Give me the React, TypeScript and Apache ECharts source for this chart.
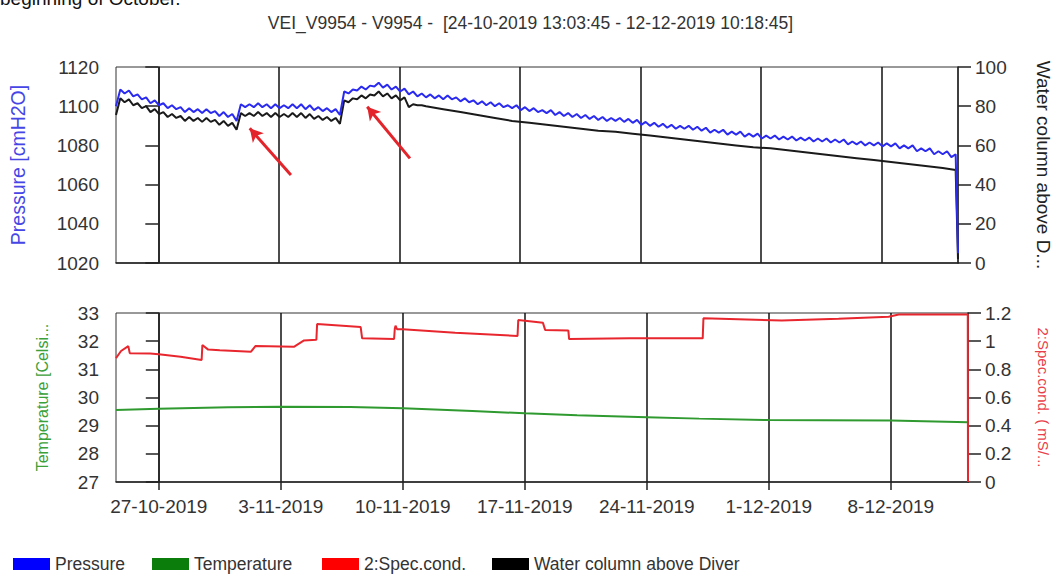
import React, { useEffect, useRef } from "react";
import * as echarts from "echarts";

// ---------- data ----------
const START = "2019-10-24T13:03:45";
const END = "2019-12-12T10:18:45";
const ORIGIN = "2019-10-27T00:00:00";

const X_TICKS = ["2019-10-27", "2019-11-03", "2019-11-10", "2019-11-17", "2019-11-24", "2019-12-01", "2019-12-08"];

// Pressure [cmH2O], one value every 6 hours from START (peak / trough of the semidiurnal wave)
const PRESSURE_STEP_HOURS = 6;
const pressure6h = [
  1100, 1108.5, 1106.5, 1108,   // 24-10
  1105, 1106, 1103.5, 1104.5,   // 25-10
  1101.5, 1103, 1100.5, 1101.5, // 26-10
  1099, 1100.5, 1098.5, 1099.5, // 27-10
  1097, 1099, 1097, 1098.5,     // 28-10
  1096.5, 1098.5, 1096.5, 1097.5, // 29-10
  1095, 1097, 1094.5, 1096,     // 30-10
  1092.5, 1101, 1099.5, 1101,   // 31-10
  1099.5, 1101.5, 1099.5, 1101, // 1-11
  1099, 1101, 1099, 1100.5,     // 2-11
  1099, 1101, 1099, 1101,       // 3-11
  1098.5, 1100.5, 1098, 1099.5, // 4-11
  1097.5, 1099, 1097, 1098.5,   // 5-11
  1095.5, 1107.5, 1106.5, 1108.5, // 6-11
  1108, 1110, 1108.5, 1110.5,   // 7-11
  1110, 1112, 1109.5, 1111,     // 8-11
  1108.5, 1110, 1107.5, 1109,   // 9-11
  1106, 1107.5, 1105, 1106.5,   // 10-11
  1104.5, 1106, 1104, 1105.5,   // 11-11
  1103.5, 1105.5, 1103.5, 1104.5, // 12-11
  1102.5, 1104, 1102, 1103,     // 13-11
  1101, 1102.5, 1100.5, 1102,   // 14-11
  1100, 1101.5, 1099.5, 1100.5, // 15-11
  1099, 1100.5, 1098, 1099.5,   // 16-11
  1097.5, 1099, 1097, 1098,     // 17-11
  1096.5, 1098, 1095.5, 1097,   // 18-11
  1095, 1096.5, 1094.5, 1096,   // 19-11
  1094, 1095.5, 1093.5, 1095,   // 20-11
  1093, 1094.5, 1092.5, 1094,   // 21-11
  1092.5, 1094, 1092, 1093.5,   // 22-11
  1091.5, 1093, 1090.5, 1092,   // 23-11
  1090, 1091.5, 1089.5, 1091,   // 24-11
  1089, 1090.5, 1088.5, 1090,   // 25-11
  1088.5, 1090, 1088, 1089.5,   // 26-11
  1087.5, 1089, 1086.5, 1088,   // 27-11
  1086.5, 1088, 1085.5, 1087,   // 28-11
  1085.5, 1087, 1084.5, 1086,   // 29-11
  1084.5, 1086, 1083.5, 1085,   // 30-11
  1083.5, 1085, 1083, 1084.5,   // 1-12
  1083, 1084.5, 1082.5, 1084,   // 2-12
  1082.5, 1084, 1082, 1083.5,   // 3-12
  1082, 1083.5, 1081.5, 1083,   // 4-12
  1081.5, 1083, 1080.5, 1082,   // 5-12
  1080.5, 1082, 1080, 1081.5,   // 6-12
  1080, 1081.5, 1079.5, 1081,   // 7-12
  1079.5, 1081, 1078.5, 1080,   // 8-12
  1078.5, 1080, 1077, 1078.5,   // 9-12
  1077, 1078.5, 1075.5, 1077,   // 10-12
  1075.5, 1077, 1074, 1075.5,   // 11-12
];
const pressureLast = 1025; // at END (diver taken out)

// Water column above Diver [cm]: 6-hourly until 11-11, then daily
const water6h = [
  75.5, 84, 82, 83.5,
  80.5, 81.5, 79, 80,
  77, 78.5, 76, 77,
  74.5, 76, 74, 75,
  72.5, 74.5, 72.5, 74,
  72, 74, 72, 73,
  70.5, 72.5, 70, 71.5,
  68, 76.5, 75, 76.5,
  75, 77, 75, 76.5,
  74.5, 76.5, 74.5, 76,
  74.5, 76.5, 74.5, 76.5,
  74, 76, 73.5, 75,
  73, 74.5, 72.5, 74,
  71, 83, 82, 84,
  83.5, 85.5, 84, 86,
  85.5, 87.5, 85, 86.5,
  84, 85.5, 83, 84.5,
  79.5, 81, 80.5, 80.5,
];
const waterDaily = [
  80, 78.5, 77, 75.5, 74, 72.5, 71.5, 70.5, 69.5, 68.5, 67.5, 67, 66, 65, 64, 63,
  62, 61, 60, 59, 58.5, 57.5, 56.5, 55.5, 54.5, 53.5, 52.5, 51.5, 50.5, 49.5, 48.5,
];
const waterTailTimes = ["2019-12-12T07:03:45", END];
const waterTailValues = [47.5, 2];

// Temperature [Celsius]
const tempTimes = [
  START, "2019-10-27T00:00", "2019-10-31T00:00", "2019-11-03T00:00", "2019-11-07T00:00",
  "2019-11-10T00:00", "2019-11-14T00:00", "2019-11-17T00:00", "2019-11-20T00:00",
  "2019-11-24T00:00", "2019-11-27T00:00", "2019-12-01T00:00", "2019-12-04T00:00",
  "2019-12-08T00:00", END,
];
const tempValues = [29.56, 29.6, 29.65, 29.67, 29.66, 29.62, 29.52, 29.44, 29.37, 29.3, 29.25, 29.2, 29.19, 29.18, 29.12];

// 2:Spec.cond. [mS/cm]
const condTimes = [
  START, "2019-10-24T20:00", "2019-10-25T06:00", "2019-10-25T08:00", "2019-10-26T12:00",
  "2019-10-27T00:00", "2019-10-28T06:00", "2019-10-29T11:00", "2019-10-29T12:00",
  "2019-10-29T20:00", "2019-10-30T12:00", "2019-11-01T07:00", "2019-11-01T13:00",
  "2019-11-03T18:00", "2019-11-04T08:00", "2019-11-05T01:00", "2019-11-05T02:00",
  "2019-11-07T14:00", "2019-11-07T16:00", "2019-11-09T12:00", "2019-11-09T13:00",
  "2019-11-09T14:00", "2019-11-09T16:00", "2019-11-10T00:00", "2019-11-13T00:00",
  "2019-11-16T14:00", "2019-11-16T15:00", "2019-11-18T01:00", "2019-11-18T04:00",
  "2019-11-19T12:00", "2019-11-19T13:00", "2019-11-23T00:00", "2019-11-27T05:00",
  "2019-11-27T06:00", "2019-12-01T18:00", "2019-12-05T00:00", "2019-12-07T21:00",
  "2019-12-08T11:00", "2019-12-12T10:00", END,
];
const condValues = [
  0.88, 0.93, 0.965, 0.915, 0.912,
  0.907, 0.89, 0.866, 0.973,
  0.94, 0.935, 0.925, 0.965,
  0.96, 1.005, 1.01, 1.122,
  1.1, 1.02, 1.015, 1.09,
  1.11, 1.085, 1.085, 1.06,
  1.037, 1.15, 1.13, 1.08,
  1.075, 1.015, 1.02, 1.02,
  1.163, 1.146, 1.16, 1.174,
  1.19, 1.19, 0,
];

// annotation arrows: [tail time, tail pressure, head time, head pressure]
const arrowTails = ["2019-11-03T16:48", "2019-11-10T14:38"];
const arrowTailValues = [1064.9, 1073.4];
const arrowHeads = ["2019-11-01T07:26", "2019-11-08T03:07"];
const arrowHeadValues = [1088.7, 1099.7];

const TITLE = "VEI_V9954 - V9954 -  [24-10-2019 13:03:45 - 12-12-2019 10:18:45]";
const CUT_TEXT = "beginning of October.";

// ---------- helpers ----------
const DAY_MS = 86400000;
const ms = (s: string) => Date.parse(s.length <= 10 ? s + "T00:00:00Z" : s + "Z");
const day = (s: string) => (ms(s) - ms(ORIGIN)) / DAY_MS;
const START_D = day(START);
const END_D = day(END);

const FONT = "'Liberation Sans', Arial, sans-serif";
const AXIS_COL = "#222";

function buildOption() {
  const pressureData: number[][] = pressure6h.map((v, i) => [START_D + (i * PRESSURE_STEP_HOURS) / 24, v]);
  pressureData.push([END_D, pressureLast]);

  const waterData: number[][] = water6h.map((v, i) => [START_D + (i * PRESSURE_STEP_HOURS) / 24, v]);
  const dailyStart = START_D + (water6h.length * PRESSURE_STEP_HOURS) / 24;
  waterDaily.forEach((v, i) => waterData.push([dailyStart + i, v]));
  waterTailTimes.forEach((t, i) => waterData.push([day(t), waterTailValues[i]]));

  const tempData = tempTimes.map((t, i) => [day(t), tempValues[i]]);
  const condData = condTimes.map((t, i) => [day(t), condValues[i]]);
  const ticks = X_TICKS.map(day);

  const arrows = arrowTails.map((t, i) => [
    { coord: [day(t), arrowTailValues[i]] },
    { coord: [day(arrowHeads[i]), arrowHeadValues[i]] },
  ]);

  const fmtDate = (v: number) => {
    const d = new Date(ms(ORIGIN) + v * DAY_MS);
    return `${d.getUTCDate()}-${d.getUTCMonth() + 1}-${d.getUTCFullYear()}`;
  };
  const plain = (v: number) => String(+v.toFixed(1));

  const xBase = (gridIndex: number, labels: boolean) => ({
    type: "value",
    gridIndex,
    min: START_D,
    max: END_D,
    axisLine: { show: true, onZero: false, lineStyle: { color: AXIS_COL, width: 1.5 } },
    axisTick: {
      show: labels,
      customValues: ticks,
      length: 8,
      lineStyle: { color: AXIS_COL, width: 1.5 },
    },
    axisLabel: {
      show: labels,
      customValues: ticks,
      formatter: fmtDate,
      margin: 15,
      fontSize: 19,
      color: "#333",
      fontFamily: FONT,
    },
    splitLine: { show: true, lineStyle: { color: "#111", width: 1.5 } },
  });

  const yBase = (gridIndex: number, position: string, min: number, max: number, interval: number, name: string, nameColor: string, nameSize: number, nameGap: number, nameRotate: number) => ({
    type: "value",
    gridIndex,
    position,
    min,
    max,
    interval,
    name,
    nameLocation: "middle",
    nameGap,
    nameRotate,
    nameTextStyle: { color: nameColor, fontSize: nameSize, fontFamily: FONT },
    axisLine: { show: true, lineStyle: { color: AXIS_COL, width: 1.5 } },
    axisTick: { show: true, inside: false, length: 13, lineStyle: { color: AXIS_COL, width: 1.5 } },
    axisLabel: {
      margin: 17,
      fontSize: 19,
      color: "#333",
      fontFamily: FONT,
      formatter: plain,
    },
    splitLine: { show: false },
  });

  const legendBase = (name: string, left: number) => ({
    data: [name],
    left,
    top: 555,
    icon: "rect",
    itemWidth: 37,
    itemHeight: 12,
    padding: 0,
    selectedMode: false,
    textStyle: { fontSize: 17.5, color: "#333", fontFamily: FONT },
  });

  return {
    animation: false,
    backgroundColor: "#fff",
    textStyle: { fontFamily: FONT },
    title: {
      text: TITLE,
      left: "center",
      top: 9,
      textStyle: { fontSize: 17.5, fontWeight: "normal", color: "#333", fontFamily: FONT },
    },
    graphic: [
      {
        type: "text",
        left: 0,
        top: -11,
        style: { text: CUT_TEXT, fontSize: 19, fill: "#111", fontFamily: FONT },
      },
    ],
    legend: [
      legendBase("Pressure", 13),
      legendBase("Temperature", 152),
      legendBase("2:Spec.cond.", 322),
      legendBase("Water column above Diver", 492),
    ],
    grid: [
      { left: 116, top: 67, width: 852, height: 196, show: true, borderColor: "#333", borderWidth: 1, backgroundColor: "transparent" },
      { left: 116, top: 313, width: 852, height: 169, show: true, borderColor: "#333", borderWidth: 1, backgroundColor: "transparent" },
    ],
    xAxis: [xBase(0, false), xBase(1, true)],
    yAxis: [
      yBase(0, "left", 1020, 1120, 20, "Pressure [cmH2O]", "#4646e6", 19.5, 88, 90),
      yBase(0, "right", 0, 100, 20, "Water column above D...", "#222", 19, 76, -90),
      yBase(1, "left", 27, 33, 1, "Temperature [Celsi...", "#3aa03a", 16, 66, 90),
      yBase(1, "right", 0, 1.2, 0.2, "2:Spec.cond. ( mS/...", "#e8404a", 15, 68, -90),
    ],
    series: [
      {
        name: "Water column above Diver",
        type: "line",
        xAxisIndex: 0,
        yAxisIndex: 1,
        data: waterData,
        showSymbol: false,
        symbol: "none",
        itemStyle: { color: "#000" },
        lineStyle: { color: "#1a1a1a", width: 2 },
        z: 2,
      },
      {
        name: "Pressure",
        type: "line",
        xAxisIndex: 0,
        yAxisIndex: 0,
        data: pressureData,
        showSymbol: false,
        symbol: "none",
        itemStyle: { color: "#0000ff" },
        lineStyle: { color: "#2a2af0", width: 2 },
        z: 3,
        markLine: {
          silent: true,
          animation: false,
          symbol: ["none", "arrow"],
          symbolSize: [11, 13],
          label: { show: false },
          lineStyle: { color: "#e3242b", width: 3, type: "solid" },
          emphasis: { disabled: true },
          data: arrows,
        },
      },
      {
        name: "Temperature",
        type: "line",
        xAxisIndex: 1,
        yAxisIndex: 2,
        data: tempData,
        showSymbol: false,
        symbol: "none",
        itemStyle: { color: "#0a7d0a" },
        lineStyle: { color: "#2f9a2f", width: 2 },
      },
      {
        name: "2:Spec.cond.",
        type: "line",
        xAxisIndex: 1,
        yAxisIndex: 3,
        data: condData,
        showSymbol: false,
        symbol: "none",
        itemStyle: { color: "#ff0000" },
        lineStyle: { color: "#e8262e", width: 2 },
      },
    ],
  };
}

export default function App() {
  const ref = useRef<HTMLDivElement>(null);
  useEffect(() => {
    if (!ref.current) return;
    const chart = echarts.init(ref.current, undefined, { renderer: "svg" });
    chart.setOption(buildOption() as any);
    return () => chart.dispose();
  }, []);
  return (
    <div
      ref={ref}
      style={{ position: "absolute", left: 0, top: 0, width: 1061, height: 575, background: "#fff" }}
    />
  );
}
